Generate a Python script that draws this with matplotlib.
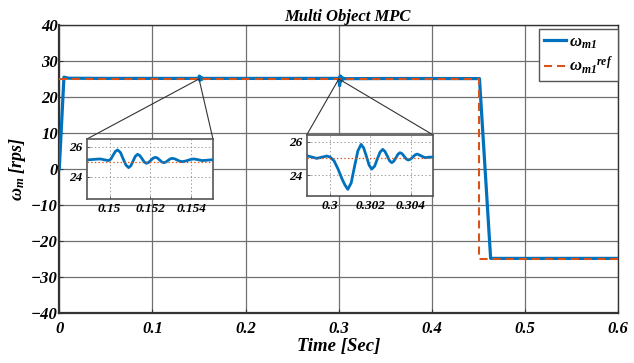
import matplotlib
matplotlib.use("Agg")
import matplotlib.pyplot as plt
from matplotlib.patches import ConnectionPatch

plt.rcParams['font.family'] = ['Liberation Serif', 'DejaVu Serif']
plt.rcParams['mathtext.fontset'] = 'custom'
plt.rcParams['mathtext.rm'] = 'Liberation Serif:bold:italic'
plt.rcParams['mathtext.it'] = 'Liberation Serif:bold:italic'
plt.rcParams['mathtext.bf'] = 'Liberation Serif:bold:italic'
plt.rcParams['lines.scale_dashes'] = False

# ---------------- data ----------------
# main speed trace (rps)
t_start = [0.0, 0.005, 0.010, 0.05, 0.10, 0.148]
w_start = [0.0, 25.5, 25.2, 25.15, 25.15, 25.15]

# zoom window 1 (around t = 0.15)
t_z1 = [0.14889, 0.14921, 0.14954, 0.14975, 0.14995, 0.15006, 0.15017, 0.15028,
        0.15039, 0.15053, 0.15066, 0.15080, 0.15093, 0.15104, 0.15115, 0.15126,
        0.15137, 0.15148, 0.15159, 0.15169, 0.15180, 0.15191, 0.15202, 0.15213,
        0.15224, 0.15234, 0.15245, 0.15255, 0.15265, 0.15275, 0.15286, 0.15296,
        0.15306, 0.15318, 0.15331, 0.15343, 0.15355, 0.15369, 0.15384, 0.15398,
        0.15412, 0.15433, 0.15453, 0.15480, 0.15507]
w_z1 = [25.13, 25.17, 25.20, 25.14, 25.09, 25.19, 25.45, 25.70,
        25.80, 25.63, 25.21, 24.79, 24.62, 24.75, 25.07, 25.38,
        25.51, 25.42, 25.21, 25.00, 24.91, 24.97, 25.11, 25.25,
        25.31, 25.26, 25.13, 25.00, 24.95, 24.99, 25.10, 25.20,
        25.24, 25.21, 25.13, 25.05, 25.02, 25.05, 25.11, 25.17,
        25.20, 25.15, 25.09, 25.12, 25.15]

t_mid = [0.20, 0.25, 0.2985]
w_mid = [25.15, 25.15, 25.16]

# zoom window 2 (around t = 0.30)
t_z2 = [0.29884, 0.29909, 0.29934, 0.29959, 0.29984, 0.30000, 0.30020, 0.30040,
        0.30050, 0.30060, 0.30074, 0.30088, 0.30105, 0.30121, 0.30138, 0.30154,
        0.30167, 0.30181, 0.30194, 0.30207, 0.30221, 0.30234, 0.30248, 0.30261,
        0.30272, 0.30284, 0.30295, 0.30306, 0.30316, 0.30327, 0.30337, 0.30347,
        0.30357, 0.30368, 0.30378, 0.30388, 0.30399, 0.30411, 0.30422, 0.30433,
        0.30452, 0.30471, 0.30490, 0.30509]
w_z2 = [25.16, 25.08, 25.00, 25.07, 25.14, 25.08, 24.85, 24.35,
        24.05, 23.75, 23.40, 23.14, 23.53, 24.49, 25.45, 25.84,
        25.62, 25.10, 24.58, 24.36, 24.53, 24.95, 25.37, 25.54,
        25.42, 25.14, 24.86, 24.74, 24.83, 25.04, 25.25, 25.34,
        25.28, 25.12, 24.96, 24.90, 24.95, 25.08, 25.21, 25.26,
        25.15, 25.04, 25.07, 25.08]

t_end = [0.35, 0.40, 0.451, 0.463, 0.50, 0.55, 0.60]
w_end = [25.12, 25.12, 25.1, -24.9, -24.9, -24.9, -24.9]

t_ref = [0.0, 0.45, 0.45, 0.60]
w_ref = [25.0, 25.0, -25.0, -25.0]

x_ticks = [0, 0.1, 0.2, 0.3, 0.4, 0.5, 0.6]
x_labels = ['0', '0.1', '0.2', '0.3', '0.4', '0.5', '0.6']
y_ticks = [-40, -30, -20, -10, 0, 10, 20, 30, 40]

z1_ticks = [0.150, 0.152, 0.154]
z1_labels = ['0.15', '0.152', '0.154']
z2_ticks = [0.300, 0.302, 0.304]
z2_labels = ['0.3', '0.302', '0.304']
zy_ticks = [24, 26]

t_all = t_start + t_z1 + t_mid + t_z2 + t_end
w_all = w_start + w_z1 + w_mid + w_z2 + w_end

BLUE = '#0072BD'
ORANGE = '#D95319'
tick_font = dict(family='Liberation Serif', weight='bold', style='italic')

# ---------------- figure ----------------
fig = plt.figure(figsize=(6.34, 3.63), dpi=100)
ax = fig.add_axes([0.0935, 0.1386, 0.8817, 0.7925])

ax.plot(t_all, w_all, color=BLUE, lw=2.3, zorder=3, solid_joinstyle='round',
        label=r'$\omega_{m1}$')
ax.plot(t_ref, w_ref, color=ORANGE, lw=1.5, dashes=(5.8, 3.6), zorder=4,
        label=r'$\omega_{m1}{}^{ref}$')

ax.set_xlim(0, 0.6)
ax.set_ylim(-40, 40)
ax.set_xticks(x_ticks)
ax.set_xticklabels(x_labels)
ax.set_yticks(y_ticks)
ax.grid(True, color='#707070', lw=0.9, ls='-')
ax.set_axisbelow(True)
ax.tick_params(direction='in', length=3, width=0.8, color='#333333')
ax.tick_params(axis='x', pad=6)
ax.tick_params(axis='y', pad=1)
for lab in ax.get_xticklabels() + ax.get_yticklabels():
    lab.set_fontproperties(matplotlib.font_manager.FontProperties(size=12, **tick_font))
for s in ax.spines.values():
    s.set_color('#333333')
    s.set_linewidth(1.0)
ax.spines['left'].set_linewidth(1.6)
ax.spines['bottom'].set_linewidth(1.6)

ax.set_title('Multi Object MPC', x=0.516, fontsize=12, pad=3, **tick_font)
ax.set_xlabel('Time [Sec]', fontsize=13.5, labelpad=1, **tick_font)
ax.set_ylabel(r'$\omega_{m}$ [rps]', fontsize=13, labelpad=2, **tick_font)

leg = ax.legend(loc='upper right', bbox_to_anchor=(0.999, 0.985), borderaxespad=0,
                fancybox=False, framealpha=1, edgecolor='#555555', fontsize=12,
                handlelength=1.35, handletextpad=0.15, labelspacing=0.25,
                borderpad=0.3)
leg.get_frame().set_linewidth(1.0)
for txt in leg.get_texts():
    txt.set_fontweight('bold')
    txt.set_fontstyle('italic')

# ---------------- insets ----------------
def make_inset(rect, t, w, xlim, ylim, xt, xl, anchor_t):
    ins = fig.add_axes(rect, zorder=10)
    ins.set_facecolor('white')
    ins.plot(t, w, color=BLUE, lw=2.0, solid_joinstyle='round', zorder=3)
    ins.plot(xlim, [25, 25], color=ORANGE, lw=0.9, ls=':', zorder=4)
    ins.set_xlim(*xlim)
    ins.set_ylim(*ylim)
    ins.set_xticks(xt)
    ins.set_xticklabels(xl)
    ins.set_yticks(zy_ticks)
    ins.grid(True, color='#8a8a8a', lw=0.6, ls=':')
    ins.tick_params(direction='in', length=2, width=0.6, color='#444444', pad=3)
    for lab in ins.get_xticklabels() + ins.get_yticklabels():
        lab.set_fontproperties(matplotlib.font_manager.FontProperties(size=9.5, **tick_font))
    for s in ins.spines.values():
        s.set_color('#555555')
        s.set_linewidth(1.2)
    for xa in (0, 1):
        con = ConnectionPatch(xyA=(xa, 1), coordsA=ins.transAxes,
                              xyB=(anchor_t, 25), coordsB=ax.transData,
                              color='#333333', lw=0.8, zorder=9)
        fig.add_artist(con)
    return ins

make_inset([0.1372, 0.4518, 0.1987, 0.1653], t_z1, w_z1,
           (0.14889, 0.15506), (22.53, 26.53), z1_ticks, z1_labels, 0.15)
make_inset([0.4837, 0.4600, 0.1997, 0.1680], t_z2, w_z2,
           (0.29884, 0.30512), (22.74, 26.4), z2_ticks, z2_labels, 0.30)

fig.savefig('out.png', dpi=100)
